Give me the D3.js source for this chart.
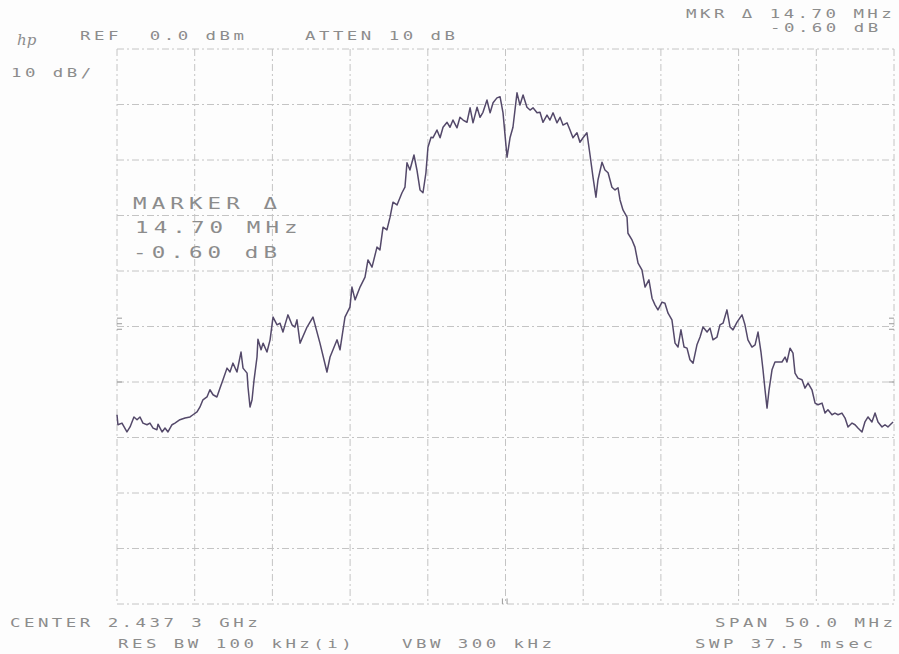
<!DOCTYPE html>
<html>
<head>
<meta charset="utf-8">
<script src="https://cdn.jsdelivr.net/npm/d3@7"></script>
<style>
  html, body { margin: 0; padding: 0; background: #fdfdfd; }
  svg { display: block; }
  .lbl { font-family: "DejaVu Sans Mono", monospace; fill: #8c8c8c; white-space: pre; }
</style>
</head>
<body>
<div id="chart"></div>
<script>
// frequency offset from center (MHz)
const freqOffset = [
  -25.00, -24.94, -24.68, -24.36, -24.16, -23.91, -23.71, -23.52, -23.33, -23.07,
  -22.88, -22.68, -22.43, -22.36, -22.10, -21.91, -21.72, -21.46, -21.27, -20.95,
  -20.62, -20.30, -20.11, -19.85, -19.66, -19.47, -19.21, -19.02, -18.82, -18.57,
  -18.37, -18.18, -17.92, -17.73, -17.54, -17.28, -17.02, -16.89, -16.63, -16.57,
  -16.44, -16.31, -16.18, -15.99, -15.93, -15.73, -15.60, -15.35, -15.15, -14.96,
  -14.70, -14.51, -14.32, -14.19, -14.00, -13.74, -13.55, -13.42, -13.22, -12.77,
  -12.39, -11.94, -11.49, -11.29, -10.84, -10.65, -10.33, -10.01, -9.88, -9.68,
  -9.36, -9.04, -8.85, -8.59, -8.27, -8.08, -7.88, -7.63, -7.43, -7.24,
  -6.98, -6.66, -6.47, -6.34, -6.15, -5.89, -5.70, -5.50, -5.31, -5.12,
  -4.99, -4.79, -4.67, -4.41, -4.21, -4.02, -3.76, -3.57, -3.38, -3.12,
  -2.93, -2.73, -2.48, -2.28, -2.09, -1.83, -1.64, -1.45, -1.19, -0.99,
  -0.80, -0.55, -0.35, -0.16, 0.10, 0.29, 0.48, 0.74, 0.93, 1.13,
  1.38, 1.58, 1.77, 2.03, 2.22, 2.41, 2.67, 2.86, 3.06, 3.31,
  3.51, 3.70, 3.96, 4.15, 4.34, 4.60, 4.79, 4.99, 5.24, 5.44,
  5.63, 5.82, 5.95, 6.21, 6.40, 6.60, 6.85, 7.05, 7.24, 7.37,
  7.56, 7.82, 7.88, 8.14, 8.33, 8.53, 8.78, 8.98, 9.23, 9.43,
  9.62, 9.81, 10.07, 10.26, 10.46, 10.71, 10.91, 11.10, 11.29, 11.49,
  11.68, 11.87, 12.07, 12.32, 12.52, 12.71, 12.97, 13.16, 13.35, 13.61,
  13.80, 14.00, 14.25, 14.45, 14.64, 14.90, 15.22, 15.41, 15.60, 15.86,
  16.06, 16.25, 16.44, 16.57, 16.70, 16.83, 16.96, 17.15, 17.34, 17.54,
  17.79, 17.99, 18.11, 18.31, 18.50, 18.63, 18.82, 19.08, 19.27, 19.47,
  19.72, 19.92, 20.11, 20.37, 20.56, 20.75, 21.01, 21.20, 21.40, 21.65,
  21.85, 22.04, 22.30, 22.49, 22.68, 22.94, 23.13, 23.33, 23.58, 23.78,
  23.97, 24.23, 24.42, 24.61, 24.87, 24.94
];

// level in dBm
const level = [
  -65.9, -67.7, -67.4, -69.0, -68.1, -66.3, -66.8, -66.3, -67.4, -67.7,
  -67.4, -68.3, -68.6, -67.6, -69.0, -68.3, -69.0, -67.7, -67.4, -66.8,
  -66.5, -66.3, -65.9, -65.4, -64.5, -63.2, -62.7, -61.4, -62.3, -62.7,
  -61.1, -59.6, -57.5, -58.2, -56.6, -58.2, -54.6, -57.5, -58.4, -60.9,
  -64.5, -63.2, -59.6, -55.5, -52.3, -54.2, -53.0, -54.6, -52.4, -48.3,
  -49.7, -49.4, -51.0, -49.7, -47.9, -49.7, -50.1, -48.8, -53.0, -50.1,
  -48.3, -53.0, -58.2, -55.5, -52.4, -54.2, -48.3, -46.5, -42.9, -45.2,
  -42.9, -41.1, -38.0, -39.3, -35.7, -36.2, -32.1, -32.6, -30.3, -27.6,
  -28.1, -25.9, -24.9, -20.5, -21.8, -19.1, -21.8, -25.4, -25.9, -22.3,
  -17.7, -15.9, -16.0, -14.6, -16.0, -14.1, -13.2, -14.1, -12.8, -14.2,
  -12.3, -12.8, -13.2, -10.6, -13.3, -10.5, -12.3, -11.4, -9.2, -11.5,
  -9.7, -8.8, -8.6, -11.5, -19.5, -16.0, -14.1, -7.9, -10.1, -8.3,
  -10.5, -11.0, -10.6, -11.5, -11.4, -13.2, -11.9, -12.8, -11.5, -13.3,
  -12.3, -13.7, -13.3, -14.6, -16.0, -15.1, -16.8, -16.0, -15.1, -19.1,
  -23.1, -26.7, -23.6, -20.4, -21.8, -22.3, -24.9, -25.4, -25.0, -27.2,
  -29.0, -30.3, -33.2, -34.4, -35.7, -38.6, -39.8, -42.9, -41.6, -44.9,
  -46.1, -47.0, -45.6, -45.8, -47.6, -48.8, -53.0, -53.7, -50.6, -53.7,
  -53.9, -56.0, -56.6, -53.3, -51.9, -50.1, -51.0, -50.3, -52.4, -51.9,
  -49.7, -49.4, -47.0, -50.1, -50.6, -49.2, -47.9, -49.7, -52.4, -53.7,
  -53.3, -51.0, -54.6, -57.8, -61.4, -64.7, -61.4, -57.8, -56.4, -56.4,
  -56.4, -55.5, -56.4, -53.9, -54.8, -58.4, -59.3, -59.6, -61.1, -60.2,
  -61.4, -63.8, -64.1, -63.8, -65.6, -65.0, -65.9, -65.6, -65.9, -65.6,
  -66.5, -68.1, -67.4, -67.7, -68.3, -69.0, -67.2, -66.3, -67.2, -65.6,
  -67.2, -68.1, -67.7, -68.1, -67.4, -67.2
];

// graticule divisions
const freqDivs = d3.range(-25, 25.01, 5);
const levelDivs = d3.range(-100, 0.01, 10);

// annotation text: [text, x, baseline]
const headerText = [
  ["REF  0.0 dBm", 80, 40],
  ["ATTEN 10 dB", 305, 40],
  ["10 dB/", 11, 77],
  ["MKR \u0394 14.70 MHz", 686, 18],
  ["-0.60 dB", 770, 32],
  ["CENTER 2.437 3 GHz", 10, 627],
  ["RES BW 100 kHz(i)", 118, 648],
  ["VBW 300 kHz", 402, 648],
  ["SPAN 50.0 MHz", 715, 627],
  ["SWP 37.5 msec", 695, 648]
];
const markerText = [
  ["MARKER \u0394", 133, 209],
  ["14.70 MHz", 135, 233],
  ["-0.60 dB", 133, 258]
];

const width = 899, height = 654;
const plot = {left: 117, right: 894, top: 49, bottom: 604};

const svg = d3.select("#chart")
  .append("svg")
  .attr("width", width)
  .attr("height", height);

const x = d3.scaleLinear().domain([-25, 25]).range([plot.left, plot.right]);
const y = d3.scaleLinear().domain([-100, 0]).range([plot.bottom, plot.top]);

// dashed graticule
const grid = svg.append("g")
  .attr("stroke", "#c4c4c4")
  .attr("stroke-width", 1)
  .attr("stroke-dasharray", "7,3,2,3");

grid.selectAll("line.v")
  .data(freqDivs)
  .enter().append("line")
  .attr("x1", d => x(d)).attr("x2", d => x(d))
  .attr("y1", plot.top).attr("y2", plot.bottom);

grid.selectAll("line.h")
  .data(levelDivs)
  .enter().append("line")
  .attr("x1", plot.left).attr("x2", plot.right)
  .attr("y1", d => y(d)).attr("y2", d => y(d));

// little edge marks on the graticule
const edgeMarks = svg.append("g").attr("stroke", "#9a9a9a").attr("stroke-width", 1);
[-48.5, -49.5, -50.5].forEach(v => {
  edgeMarks.append("line").attr("x1", x(-25)).attr("x2", x(-25) + 5).attr("y1", y(v)).attr("y2", y(v));
  edgeMarks.append("line").attr("x1", x(25) - 5).attr("x2", x(25)).attr("y1", y(v)).attr("y2", y(v));
});
edgeMarks.append("line").attr("x1", x(-25)).attr("x2", x(-25) + 5).attr("y1", y(-60)).attr("y2", y(-60));
edgeMarks.append("line").attr("x1", x(25) - 5).attr("x2", x(25)).attr("y1", y(-60)).attr("y2", y(-60));
edgeMarks.append("line").attr("x1", x(-0.2)).attr("x2", x(-0.2)).attr("y1", y(-99)).attr("y2", y(-100));
edgeMarks.append("line").attr("x1", x(0.1)).attr("x2", x(0.1)).attr("y1", y(-99)).attr("y2", y(-100));

// the trace
const trace = freqOffset.map((f, i) => ({f: f, v: level[i]}));
const line = d3.line().x(d => x(d.f)).y(d => y(d.v));

svg.append("path")
  .datum(trace)
  .attr("fill", "none")
  .attr("stroke", "#54496a")
  .attr("stroke-width", 1.5)
  .attr("stroke-linejoin", "round")
  .attr("d", line);

// hp logo
svg.append("text")
  .attr("x", 17).attr("y", 45)
  .attr("font-family", "DejaVu Serif, serif")
  .attr("font-style", "italic")
  .attr("font-size", 15)
  .attr("fill", "#8c8c8c")
  .text("hp");

// plotter style labels, stretched wide
svg.selectAll("text.hdr")
  .data(headerText)
  .enter().append("text")
  .attr("class", "lbl")
  .attr("transform", d => `translate(${d[1]},${d[2]}) scale(1.45,1)`)
  .attr("font-size", 12)
  .attr("letter-spacing", 2.4)
  .text(d => d[0]);

svg.selectAll("text.mkr")
  .data(markerText)
  .enter().append("text")
  .attr("class", "lbl")
  .attr("transform", d => `translate(${d[1]},${d[2]}) scale(1.5,1)`)
  .attr("font-size", 15)
  .attr("letter-spacing", 3.4)
  .text(d => d[0]);
</script>
</body>
</html>
